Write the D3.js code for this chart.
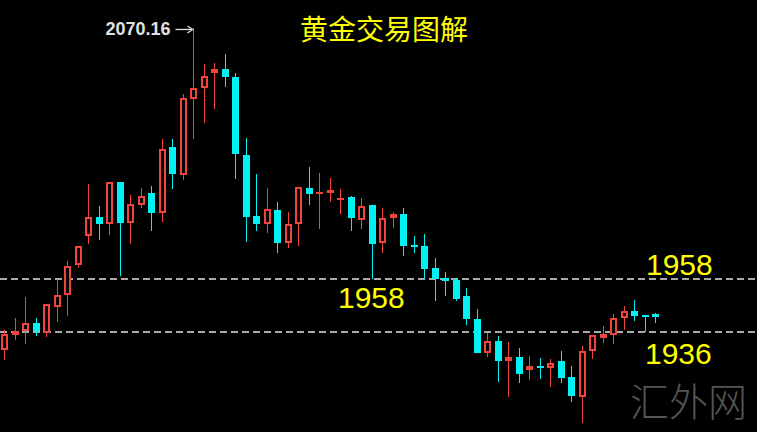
<!DOCTYPE html>
<html>
<head>
<meta charset="utf-8">
<script src="https://cdnjs.cloudflare.com/ajax/libs/d3/7.8.5/d3.min.js"></script>
<style>
body{margin:0;background:#000;overflow:hidden}
</style>
</head>
<body>
<svg class="chart"></svg>
<script>
// candle values, left to right
const opens  = [1928.5,1934.8,1936.4,1939.7,1935.6,1946.4,1951.4,1963.8,1975.8,1983.7,1980.8,1998.3,1981.2,1988.7,1993.7,1985.4,2012.8,2001.2,2032.7,2037.3,2043.5,2045.2,2041.8,2009.5,1984.2,1980.8,1986.6,1972.9,1980.8,1995.8,1993.3,1993.7,1991.2,1992.0,1982.5,1988.7,1972.9,1983.3,1985.0,1972.1,1971.7,1962.6,1958.4,1957.6,1950.9,1941.4,1927.3,1932.3,1924.0,1925.6,1920.2,1921.9,1921.1,1924.0,1917.3,1909.0,1928.1,1933.5,1934.8,1941.8,1944.7,1943.1,1943.5]
const highs  = [1936.8,1941.8,1950.5,1941.8,1947.6,1957.6,1965.5,1971.7,1997.4,1988.3,1998.3,1998.3,1992.9,1995.8,1996.6,2016.1,2016.1,2034.8,2062.2,2047.2,2047.7,2051.4,2043.5,2016.5,2001.6,1995.8,1990.0,1985.8,1996.2,2004.5,2002.0,1999.9,1995.4,1992.5,1991.6,1988.7,1987.5,1985.8,1987.5,1975.9,1976.7,1966.7,1960.9,1958.4,1954.3,1945.5,1935.6,1934.3,1931.9,1929.4,1926.0,1925.2,1924.8,1928.1,1921.9,1930.2,1934.8,1938.5,1943.5,1946.8,1949.3,1943.1,1943.9]
const lows   = [1924.4,1932.7,1931.0,1934.3,1933.9,1940.2,1942.6,1962.6,1972.5,1974.2,1976.3,1959.3,1972.5,1987.5,1977.9,1981.7,1995.4,1999.1,2016.1,2022.7,2028.6,2037.7,1999.5,1973.4,1977.9,1977.1,1968.8,1970.9,1971.7,1988.7,1978.8,1990.0,1985.0,1977.9,1978.8,1958.0,1968.8,1979.2,1967.6,1968.8,1958.0,1948.9,1950.9,1948.9,1938.9,1927.3,1925.6,1915.3,1909.0,1914.8,1916.1,1916.5,1913.2,1914.8,1907.0,1898.2,1924.8,1931.4,1931.0,1936.8,1940.6,1936.0,1939.7]
const closes = [1935.2,1936.4,1939.7,1936.4,1947.6,1951.4,1963.4,1971.7,1983.7,1980.8,1998.3,1981.2,1989.1,1992.5,1985.4,2012.0,2001.6,2033.1,2037.3,2042.3,2045.2,2041.8,2009.9,1983.7,1980.8,1987.1,1972.9,1980.8,1996.2,1993.3,1994.1,1994.9,1991.6,1983.3,1988.3,1972.5,1983.3,1985.0,1971.7,1971.3,1962.2,1958.0,1957.2,1949.7,1941.4,1927.3,1932.3,1924.0,1925.6,1918.6,1921.9,1921.5,1923.1,1916.9,1909.5,1928.1,1934.8,1935.2,1941.8,1944.7,1942.6,1942.2,1942.2]
// dashed levels and their labels
const levels = [1958, 1936]
const levelLabels = ["1958", "1958", "1936"]
const peakLabel = "2070.16"
const title = "黄金交易图解"
const watermark = "汇外网"

const width = 757, height = 432
const upColor = "#f0453c", downColor = "#00f2f2", textYellow = "#ffff00"

let candles = opens.map(function(o,i){
  return {i:i, o:o, h:highs[i], l:lows[i], c:closes[i], up: closes[i] >= o}
})

let chart = d3.select(".chart")
    .attr("width", width)
    .attr("height", height)
    .style("background", "#000")

let x = d3.scaleBand()
    .domain(d3.range(candles.length))
    .range([-1.25, 660.25])
    .paddingInner(0.33)
    .paddingOuter(0.165)

let y = d3.scaleLinear()//two dashed levels pin the scale
    .domain([1936, 1958])
    .range([332, 279])

let bw = Math.round(x.bandwidth())
function cx(d){ return Math.round(x(d.i) + x.bandwidth()/2) + 0.5 }
function bodyTop(d){ return Math.round(y(Math.max(d.o,d.c))) }
function bodyH(d){ return Math.max(2, Math.round(y(Math.min(d.o,d.c)) - y(Math.max(d.o,d.c)))) }

// dashed level lines
chart.selectAll(".level")
    .data(levels)
    .enter().append("line")
    .attr("x1", 0).attr("x2", width)
    .attr("y1", function(d){ return Math.round(y(d)) })
    .attr("y2", function(d){ return Math.round(y(d)) })
    .attr("stroke", "#aaaaaa")
    .attr("stroke-width", 2)
    .attr("stroke-dasharray", "7,4")

let g = chart.append("g").attr("shape-rendering", "crispEdges")

// wicks from high to low, bodies drawn on top
g.selectAll(".wick")
    .data(candles)
    .enter().append("line")
    .attr("x1", cx).attr("x2", cx)
    .attr("y1", function(d){ return y(d.h) })
    .attr("y2", function(d){ return y(d.l) })
    .attr("stroke", function(d){ return d.up ? upColor : downColor })
    .attr("stroke-width", 1.4)

g.selectAll(".body")
    .data(candles)
    .enter().append("rect")
    .attr("x", function(d){ return cx(d) - 0.5 - Math.floor(bw/2) })
    .attr("y", bodyTop)
    .attr("width", bw)
    .attr("height", bodyH)
    .attr("fill", function(d){ return d.up ? upColor : downColor })

// up candles are hollow: punch a black hole inside the red body
g.selectAll(".hole")
    .data(candles.filter(function(d){ return d.up && bodyH(d) > 4 }))
    .enter().append("rect")
    .attr("x", function(d){ return cx(d) - 0.5 - Math.floor(bw/2) + 2 })
    .attr("y", function(d){ return bodyTop(d) + 2 })
    .attr("width", bw - 4)
    .attr("height", function(d){ return bodyH(d) - 4 })
    .attr("fill", "#000")

// peak annotation
let peak = candles.reduce(function(a,b){ return b.h > a.h ? b : a })
let px = cx(peak), py = y(peak.h)
chart.append("text")
    .attr("x", px - 88)
    .attr("y", py + 7)
    .attr("fill", "#e0e0e0")
    .style("font-family", "'Liberation Sans', Arial, sans-serif")
    .style("font-weight", "bold")
    .style("font-size", "18px")
    .text(peakLabel)
chart.append("line")
    .attr("x1", px - 18).attr("x2", px - 1)
    .attr("y1", py + 1.5).attr("y2", py + 1.5)
    .attr("stroke", "#e0e0e0").attr("stroke-width", 1.3)
chart.append("path")
    .attr("d", "M" + (px - 6) + "," + (py - 2) + "L" + (px - 1) + "," + (py + 1.5) + "L" + (px - 6) + "," + (py + 5))
    .attr("fill", "none").attr("stroke", "#e0e0e0").attr("stroke-width", 1.3)

// level labels
let labelPos = [[646, y(1958) - 4], [338, y(1958) + 29], [645, y(1936) + 32]]
chart.selectAll(".lvlText")
    .data(levelLabels)
    .enter().append("text")
    .attr("x", function(d,i){ return labelPos[i][0] })
    .attr("y", function(d,i){ return labelPos[i][1] })
    .attr("fill", textYellow)
    .style("font-family", "'Liberation Sans', Arial, sans-serif")
    .style("font-size", "30px")
    .text(function(d){ return d })

chart.append("text")
    .attr("x", 300).attr("y", 40)
    .attr("fill", textYellow)
    .style("font-family", "'Noto Sans CJK SC', sans-serif")
    .style("font-size", "28px")
    .text(title)

chart.append("text")
    .attr("x", 630).attr("y", 416)
    .attr("fill", "#555555")
    .style("font-family", "'Noto Sans CJK SC', sans-serif")
    .style("font-weight", "300")
    .style("font-size", "39px")
    .text(watermark)
</script>
</body>
</html>
